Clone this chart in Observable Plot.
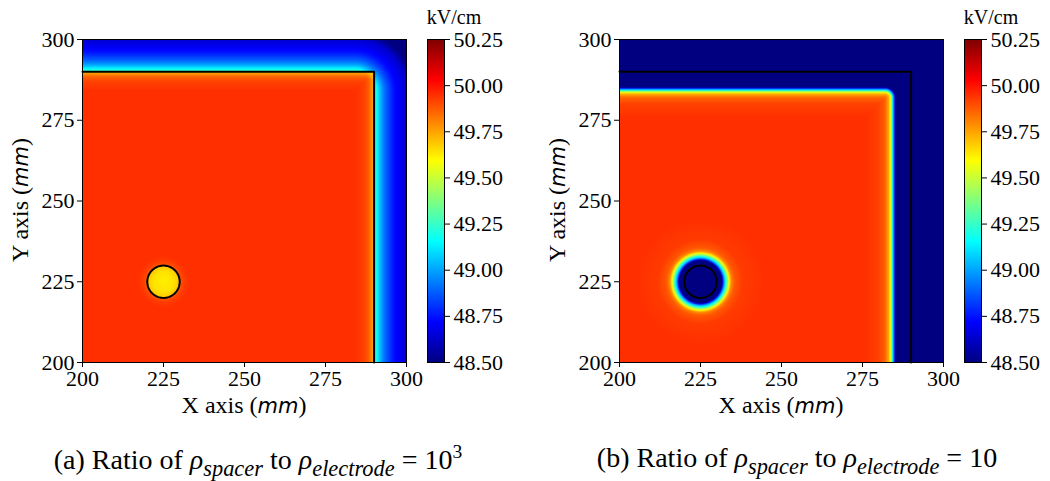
<!DOCTYPE html>
<html><head><meta charset="utf-8">
<script src="https://cdn.jsdelivr.net/npm/d3@7"></script>
<script src="https://cdn.jsdelivr.net/npm/@observablehq/plot@0.6"></script>
<style>
body{margin:0;background:#fff;}
#root{position:relative;width:1050px;height:481px;overflow:hidden;font-family:'Liberation Serif';color:#000;}
.abs{position:absolute;}
.lbl{font-size:24px;white-space:nowrap;line-height:1;}
.mm{font-family:'DejaVu Sans';font-style:italic;font-size:21px;}
.cap{font-size:28px;white-space:nowrap;line-height:1;}
.cap sub{font-size:0.8em;vertical-align:-0.3em;font-style:italic;}
.cap sup{font-size:0.7em;vertical-align:0.55em;}
.unit{font-size:20px;white-space:nowrap;line-height:1;}
</style></head><body><div id="root"></div><script>
// ---- data ----
const axisDomain = [200, 300];
const axisTicks = [200, 225, 250, 275, 300];
const colorDomain = [48.5, 50.25];
const colorTicks = [48.5, 48.75, 49.0, 49.25, 49.5, 49.75, 50.0, 50.25];
const electrodeEdge = 290;          // mm
const spacerCenter = [225, 225];    // mm
const spacerRadius = 5;             // mm
// panel (a): field (kV/cm) vs signed distance (mm) from electrode edge
const edgeDistA_in  = [-40, -6, -3, -1.5, -0.6, 0];
const edgeValA_in   = [49.95, 49.95, 49.92, 49.86, 49.78, 49.7];
const edgeDistA_out = [0, 1, 2, 3, 4, 6, 8, 10, 11, 12.5];
const edgeValA_out  = [49.3, 49.15, 49.02, 48.93, 48.86, 48.75, 48.69, 48.64, 48.58, 48.5];
const cornerRoundA = 6;
// panel (a): field vs distance (mm) from spacer centre
const spacerDistA = [0, 3, 4.6, 4.99, 5.01, 5.5, 6.5, 8, 11];
const spacerValA  = [49.62, 49.64, 49.68, 49.72, 49.85, 49.9, 49.93, 49.95, 49.95];
// panel (b)
const edgeDistB = [-40, -14, -10, -8, -6.8, -6.2, -5.8, -5.4, -5.1, -4.8];
const edgeValB  = [49.95, 49.95, 49.92, 49.86, 49.72, 49.5, 49.2, 48.98, 48.72, 48.5];
const cornerRoundB = 8;
const spacerDistB = [0, 6.6, 6.9, 7.3, 7.7, 8.2, 8.8, 9.5, 10.5, 13, 20];
const spacerValB  = [48.5, 48.5, 48.75, 49.0, 49.15, 49.35, 49.6, 49.8, 49.88, 49.93, 49.95];

// ---- helpers ----
function jet(t){
  const c = v => Math.max(0, Math.min(1, v));
  const r = c(Math.min(4*t-1.5, -4*t+4.5));
  const g = c(Math.min(4*t-0.5, -4*t+3.5));
  const b = c(Math.min(4*t+0.5, -4*t+2.5));
  return `rgb(${Math.round(r*255)},${Math.round(g*255)},${Math.round(b*255)})`;
}
const prof = (d, v) => d3.scaleLinear().domain(d).range(v).clamp(true);
function sdf(x, y, r){
  const c = electrodeEdge - r;
  const dx = x - c, dy = y - c;
  const out = Math.hypot(Math.max(dx,0), Math.max(dy,0));
  const ins = Math.min(Math.max(dx,dy), 0);
  return out + ins - r;
}
const pAin = prof(edgeDistA_in, edgeValA_in), pAout = prof(edgeDistA_out, edgeValA_out), pSA = prof(spacerDistA, spacerValA);
const pB = prof(edgeDistB, edgeValB), pSB = prof(spacerDistB, spacerValB);
function fieldA(x, y){
  const inside = x <= electrodeEdge && y <= electrodeEdge;
  const d = sdf(x, y, inside ? 3 : cornerRoundA);
  const e = inside ? pAin(d) : pAout(Math.max(d, 0));
  const s = pSA(Math.hypot(x - spacerCenter[0], y - spacerCenter[1]));
  return Math.min(e, s);
}
function fieldB(x, y){
  const d = sdf(x, y, cornerRoundB);
  const s = pSB(Math.hypot(x - spacerCenter[0], y - spacerCenter[1]));
  return Math.min(pB(d), s);
}
const electrodeOutline = [[axisDomain[0], electrodeEdge], [electrodeEdge, electrodeEdge], [electrodeEdge, axisDomain[0]]];
const spacerOutline = d3.range(0, 361, 3).map(a => [spacerCenter[0] + spacerRadius*Math.cos(a*Math.PI/180), spacerCenter[1] + spacerRadius*Math.sin(a*Math.PI/180)]);

const plotStyle = {fontFamily: "'Liberation Serif'", fontSize: "22px", background: "transparent", overflow: "visible"};
const colorScale = {type: "linear", domain: colorDomain, interpolate: jet, clamp: true};

function mainPlot(field){
  return Plot.plot({
    width: 420, height: 420, marginLeft: 82, marginRight: 14, marginTop: 39, marginBottom: 58,
    style: plotStyle,
    x: {domain: axisDomain, ticks: axisTicks, tickSize: 5, tickPadding: 3, label: null},
    y: {domain: axisDomain, ticks: axisTicks, tickSize: 5, tickPadding: 3, label: null},
    color: colorScale,
    marks: [
      Plot.raster({fill: field, x1: axisDomain[0], x2: axisDomain[1], y1: axisDomain[0], y2: axisDomain[1], pixelSize: 1}),
      Plot.line(electrodeOutline, {stroke: "black", strokeWidth: 2}),
      Plot.line(spacerOutline, {stroke: "black", strokeWidth: 2}),
      Plot.frame({stroke: "black", strokeWidth: 1})
    ]
  });
}
function colorBar(){
  return Plot.plot({
    width: 97, height: 420, marginLeft: 0, marginRight: 80, marginTop: 39, marginBottom: 58,
    style: plotStyle,
    x: {domain: [0, 1], axis: null},
    y: {domain: colorDomain, ticks: colorTicks, tickFormat: d3.format(".2f"), axis: "right", tickSize: 5, tickPadding: 4, label: null},
    color: colorScale,
    marks: [
      Plot.raster({fill: (x, y) => y, x1: 0, x2: 1, y1: colorDomain[0], y2: colorDomain[1], pixelSize: 1}),
      Plot.frame({stroke: "black", strokeWidth: 1})
    ]
  });
}
const root = document.getElementById("root");
function place(el, left, top){ el.classList.add("abs"); el.style.left = left + "px"; el.style.top = top + "px"; root.appendChild(el); }
function label(html, cls, cx, cy, rot){
  const d = document.createElement("div");
  d.className = cls + " abs"; d.innerHTML = html;
  d.style.left = cx + "px"; d.style.top = cy + "px";
  d.style.transform = `translate(-50%,-50%)` + (rot ? ` rotate(${rot}deg)` : "");
  root.appendChild(d);
}
place(mainPlot(fieldA), 0, 0);
place(colorBar(), 427, 0);
place(mainPlot(fieldB), 537, 0);
place(colorBar(), 964, 0);
const xl = "X axis (<span class='mm'>mm</span>)", yl = "Y axis (<span class='mm'>mm</span>)";
label(xl, "lbl", 244, 405);
label(yl, "lbl", 20, 200, -90);
label(xl, "lbl", 781, 405);
label(yl, "lbl", 557, 200, -90);
label("kV/cm", "unit", 454, 17);
label("kV/cm", "unit", 991, 17);
label("(a) Ratio of <i>ρ</i><sub>spacer</sub> to <i>ρ</i><sub>electrode</sub> = 10<sup>3</sup>", "cap", 258, 461);
label("(b) Ratio of <i>ρ</i><sub>spacer</sub> to <i>ρ</i><sub>electrode</sub> = 10", "cap", 797, 461);
</script></body></html>
